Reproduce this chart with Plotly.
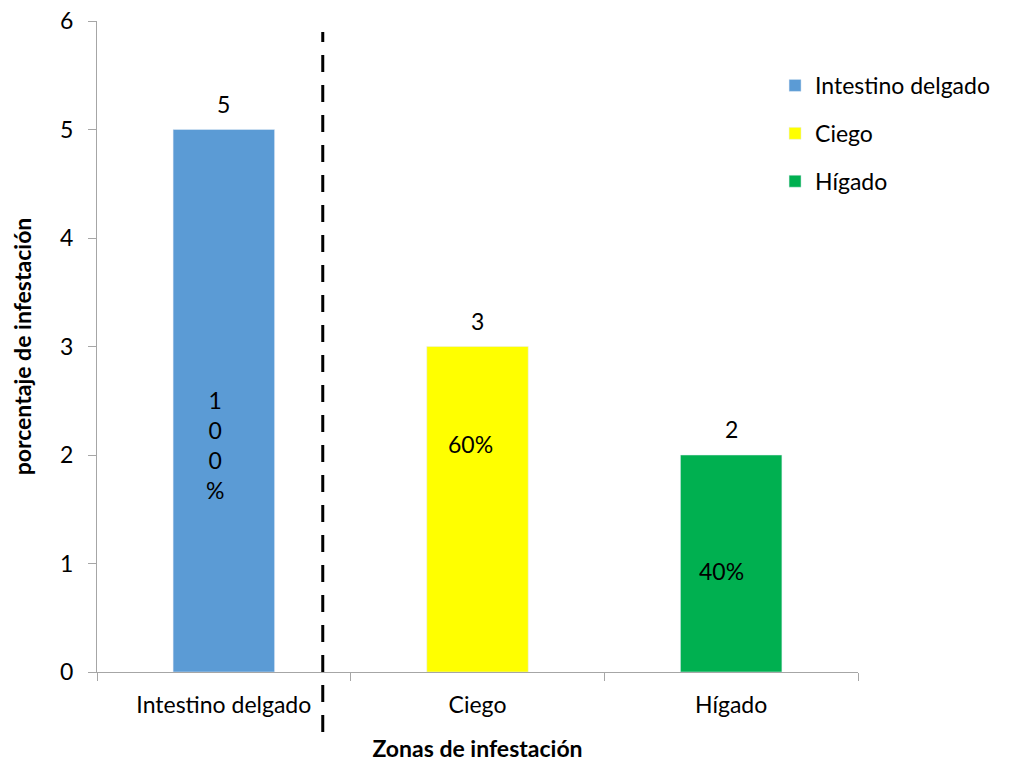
import plotly.graph_objects as go

# Infestation zones and counts
zonas = ["Intestino delgado", "Ciego", "Hígado"]
valores = [5, 3, 2]
porcentajes = ["1<br>0<br>0<br>%", "60%", "40%"]
colores = ["#5B9BD5", "#FFFF00", "#00B050"]
y_ticks = [0, 1, 2, 3, 4, 5, 6]

FONT = "Lato, 'Open Sans', sans-serif"

fig = go.Figure()
for z, v, c in zip(zonas, valores, colores):
    fig.add_trace(go.Bar(
        x=[z], y=[v], name=z, marker_color=c, width=0.4,
        cliponaxis=False, legendgroup=z,
    ))
    # value label above each bar
    fig.add_annotation(x=z, y=v, text=str(v), showarrow=False,
                       yanchor="bottom", yshift=10,
                       font=dict(size=23, color="black", family=FONT))

# Percentage labels inside the bars
pct_y = [2.09, 2.1, 0.93]
pct_dx = [-9, -7, -10]
for z, p, yy, dx in zip(zonas, porcentajes, pct_y, pct_dx):
    fig.add_annotation(x=z, y=yy, text=p, showarrow=False, xshift=dx,
                       font=dict(size=23, color="black", family=FONT))

# Dashed separator between the small intestine and the other zones
fig.add_shape(type="line", xref="x", yref="paper", x0=0.39, x1=0.39,
              y0=-0.092, y1=0.983,
              line=dict(color="black", width=3, dash="17px,13px"))

fig.update_layout(
    width=1009, height=762,
    margin=dict(l=97, r=151, t=21, b=90, autoexpand=False),
    paper_bgcolor="white", plot_bgcolor="white",
    font=dict(family=FONT, size=23, color="black"),
    barmode="overlay",
    showlegend=True,
    legend=dict(x=0.891, xanchor="left", y=0.934, yanchor="top",
                font=dict(size=23), traceorder="grouped",
                tracegroupgap=15, bgcolor="rgba(0,0,0,0)"),
    xaxis=dict(
        title=dict(text="<b>Zonas de infestación</b>", font=dict(size=23), standoff=28),
        showline=True, linecolor="#A6A6A6", linewidth=1,
        ticks="outside", ticklen=8, tickcolor="#A6A6A6",
        tickson="boundaries", showgrid=False,
        ticklabelstandoff=12,
        tickfont=dict(size=23),
    ),
    yaxis=dict(
        title=dict(text="<b>porcentaje de infestación</b>", font=dict(size=23), standoff=22),
        range=[0, 6], tickvals=y_ticks,
        showline=True, linecolor="#A6A6A6", linewidth=1,
        ticks="outside", ticklen=8, tickcolor="#A6A6A6",
        ticklabelstandoff=10,
        showgrid=False, zeroline=False,
        tickfont=dict(size=23),
    ),
)

fig.write_html("out.html")
